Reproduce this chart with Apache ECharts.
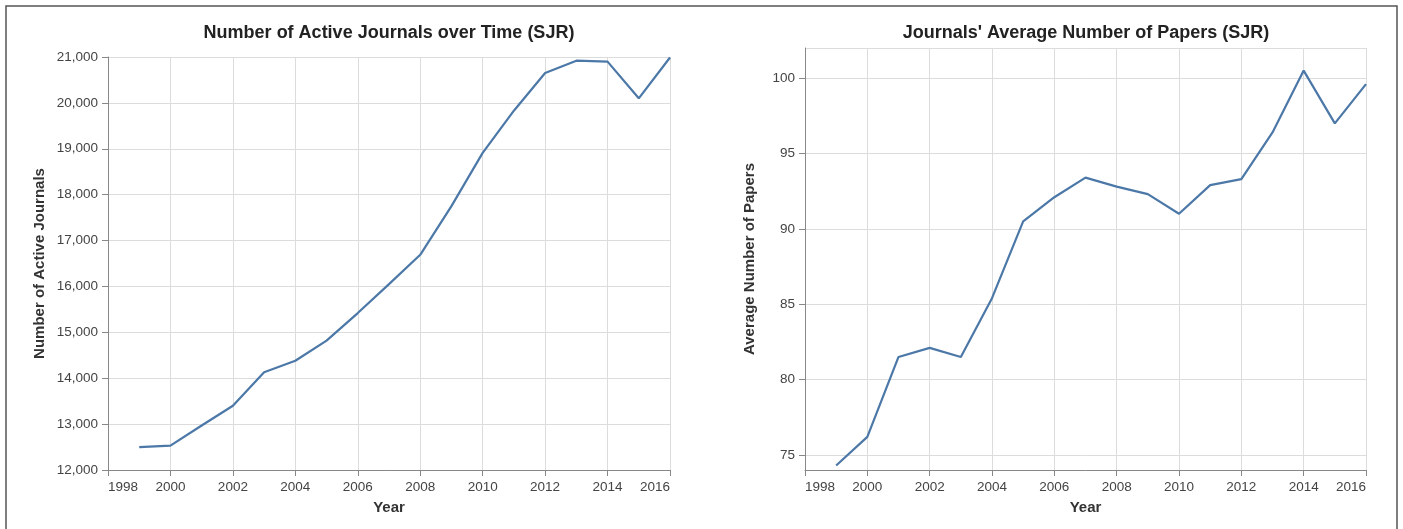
<!DOCTYPE html>
<html>
<head>
<meta charset="utf-8">
<script src="https://cdn.jsdelivr.net/npm/echarts@6/dist/echarts.min.js"></script>
<style>
html,body{margin:0;padding:0;background:#fff;}
#chart{width:1403px;height:529px;}
</style>
</head>
<body>
<div id="chart"></div>
<script>
const years = [1999,2000,2001,2002,2003,2004,2005,2006,2007,2008,2009,2010,2011,2012,2013,2014,2015,2016];
const activeJournals = [12500,12530,12970,13400,14130,14380,14820,15420,16050,16690,17750,18910,19830,20650,20920,20900,20100,20990];
const avgPapers = [74.3,76.2,81.5,82.1,81.5,85.4,90.5,92.1,93.4,92.8,92.3,91.0,92.9,93.3,96.4,100.5,97.0,99.6];
const titles = ["Number of Active Journals over Time (SJR)", "Journals' Average Number of Papers (SJR)"];
const yNames = ["Number of Active Journals", "Average Number of Papers"];
const xName = "Year";

const FONT = "'Liberation Sans', Arial, Helvetica, sans-serif";
const AXIS_COLOR = '#888';
const GRID_COLOR = '#dcdcdc';
const LABEL_COLOR = '#444';
const LINE_COLOR = '#4c78a8';
const LABEL_SIZE = 13.5;
const NAME_SIZE = 15;
const TITLE_SIZE = 18;

function xAxis(gridIndex){
  return {
    type:'value', gridIndex, min:1998, max:2016, interval:2,
    name:xName, nameLocation:'middle', nameGap:30,
    nameTextStyle:{fontFamily:FONT,fontWeight:'bold',fontSize:NAME_SIZE,color:'#333'},
    axisLine:{show:true,lineStyle:{color:AXIS_COLOR,width:1}},
    axisTick:{show:true,length:6,lineStyle:{color:AXIS_COLOR}},
    axisLabel:{fontFamily:FONT,fontSize:LABEL_SIZE,color:LABEL_COLOR,margin:10,
      alignMinLabel:'left',alignMaxLabel:'right',
      formatter:v=>String(v)},
    splitLine:{show:true,lineStyle:{color:GRID_COLOR,width:1}}
  };
}

const option = {
  animation:false,
  backgroundColor:'#fff',
  title:[
    {text:titles[0],left:389,top:24,textAlign:'center',padding:0,
     textStyle:{fontFamily:FONT,fontWeight:'bold',fontSize:TITLE_SIZE,color:'#222'}},
    {text:titles[1],left:1086,top:24,textAlign:'center',padding:0,
     textStyle:{fontFamily:FONT,fontWeight:'bold',fontSize:TITLE_SIZE,color:'#222'}}
  ],
  grid:[
    {left:108,right:733,top:57,bottom:59,containLabel:false},
    {left:805,right:37,top:48,bottom:59,containLabel:false}
  ],
  xAxis:[xAxis(0), xAxis(1)],
  yAxis:[
    {type:'value',gridIndex:0,min:12000,max:21000,interval:1000,
     name:yNames[0],nameLocation:'middle',nameGap:61,nameRotate:90,
     nameTextStyle:{fontFamily:FONT,fontWeight:'bold',fontSize:NAME_SIZE,color:'#333'},
     axisLine:{show:true,lineStyle:{color:AXIS_COLOR,width:1}},
     axisTick:{show:true,length:6,lineStyle:{color:AXIS_COLOR}},
     axisLabel:{fontFamily:FONT,fontSize:LABEL_SIZE,color:LABEL_COLOR,margin:10,
       formatter:v=>v.toLocaleString('en-US')},
     splitLine:{show:true,lineStyle:{color:GRID_COLOR,width:1}}},
    {type:'value',gridIndex:1,min:74,max:102,splitNumber:5,
     name:yNames[1],nameLocation:'middle',nameGap:48,nameRotate:90,
     nameTextStyle:{fontFamily:FONT,fontWeight:'bold',fontSize:NAME_SIZE,color:'#333'},
     axisLine:{show:true,lineStyle:{color:AXIS_COLOR,width:1}},
     axisTick:{show:true,length:6,lineStyle:{color:AXIS_COLOR}},
     axisLabel:{fontFamily:FONT,fontSize:LABEL_SIZE,color:LABEL_COLOR,margin:10,
       showMinLabel:false,showMaxLabel:false,
       formatter:v=>(v%5===0?String(v):'')},
     splitLine:{show:true,lineStyle:{color:GRID_COLOR,width:1}}}
  ],
  series:[
    {type:'line',xAxisIndex:0,yAxisIndex:0,symbol:'none',
     lineStyle:{color:LINE_COLOR,width:2.2},
     data:years.map((y,i)=>[y,activeJournals[i]])},
    {type:'line',xAxisIndex:1,yAxisIndex:1,symbol:'none',
     lineStyle:{color:LINE_COLOR,width:2.2},
     data:years.map((y,i)=>[y,avgPapers[i]])}
  ],
  graphic:[
    {type:'rect',silent:true,z:100,
     shape:{x:6,y:6,width:1391,height:600},
     style:{fill:'none',stroke:'#555',lineWidth:1.5}}
  ]
};
const chart = echarts.init(document.getElementById('chart'));
chart.setOption(option);
</script>
</body>
</html>
